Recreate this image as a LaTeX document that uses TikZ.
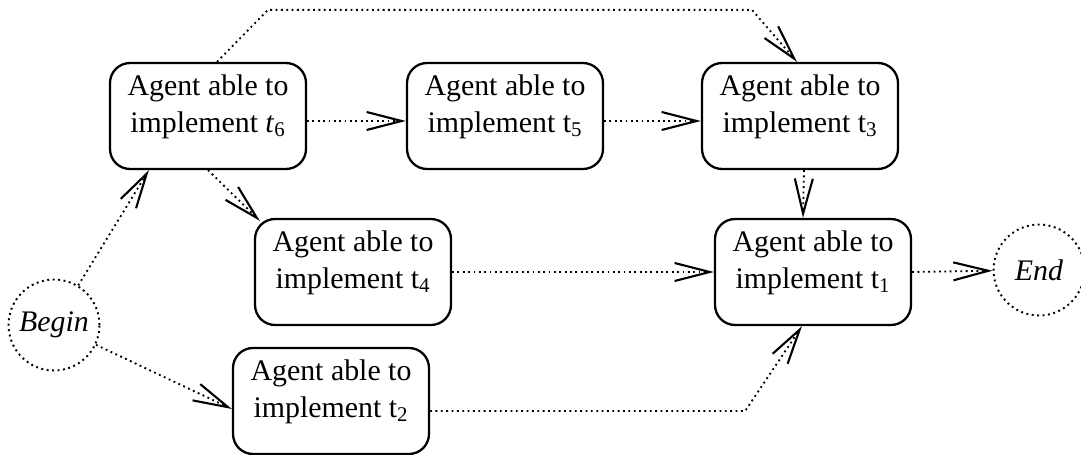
\documentclass[tikz,border=0pt]{standalone}
\usepackage{fontspec}
\setmainfont{Liberation Serif}
\usepackage{tikz}
\usetikzlibrary{arrows.meta}

\begin{document}
\begin{tikzpicture}[x=0.02cm, y=-0.02cm,
  font=\fontsize{17}{21}\selectfont,
  agent/.style={draw, line width=1.3pt, rounded corners=0.4cm, align=center,
    minimum width=3.92cm, minimum height=2.12cm, inner sep=0pt},
  term/.style={draw, circle, dotted, line width=1.1pt, minimum size=1.82cm, inner sep=0pt,
    font=\fontsize{17}{21}\selectfont\itshape},
  flow/.style={dotted, line width=1.05pt,
    -{Straight Barb[length=0.7cm, width=0.36cm, line width=1.2pt]}}]
    \useasboundingbox (0,0) rectangle (1081,455);
    % start and end of the plan
    \node[term] (begin) at (54,325) {Begin};
    \node[term] (end) at (1039,270) {End};
    % agents, one per task
    \node[agent] (t6) at (208,116) {Agent able to\\implement \textit{t}\textsubscript{6}\rule[-0.5cm]{0pt}{0.5cm}};
    \node[agent] (t5) at (505,116) {Agent able to\\implement t\textsubscript{5}\rule[-0.5cm]{0pt}{0.5cm}};
    \node[agent] (t3) at (800,116) {Agent able to\\implement t\textsubscript{3}\rule[-0.5cm]{0pt}{0.5cm}};
    \node[agent] (t4) at (353,272) {Agent able to\\implement t\textsubscript{4}\rule[-0.5cm]{0pt}{0.5cm}};
    \node[agent] (t1) at (813,272) {Agent able to\\implement t\textsubscript{1}\rule[-0.5cm]{0pt}{0.5cm}};
    \node[agent] (t2) at (331,401) {Agent able to\\implement t\textsubscript{2}\rule[-0.5cm]{0pt}{0.5cm}};
    % dependencies
    \draw[flow] (begin) -- ([shift={(40,0)}]t6.south west);
    \draw[flow] (begin) -- ([shift={(0,8)}]t2.west);
    \draw[flow] (t6.south) -- ([shift={(6,3)}]t4.north west);
    \draw[flow] ([shift={(0,5)}]t6.east) -- ([shift={(0,5)}]t5.west);
    \draw[flow] ([shift={(0,5)}]t5.east) -- ([shift={(0,5)}]t3.west);
    \draw[flow] ([shift={(9,0)}]t6.north) -- ++(51,-52) -- ++(484,0)
      -- ([shift={(-3,0)}]t3.north);
    \draw[flow] ([shift={(4,0)}]t3.south) -- ([shift={(-10,0)}]t1.north);
    \draw[flow] (t4.east) -- (t1.west);
    \draw[flow] ([shift={(0,10)}]t2.east) -- ++(315,0) -- ([shift={(-11,0)}]t1.south);
    \draw[flow] (t1.east) -- (end);
\end{tikzpicture}
\end{document}
